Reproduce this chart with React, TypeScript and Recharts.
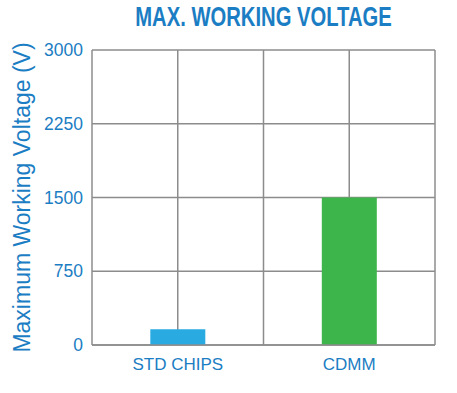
import { BarChart, Bar, XAxis, YAxis, CartesianGrid, Cell } from "recharts";

const categories = ["STD CHIPS", "CDMM"];
const voltages = [160, 1500];
const barColors = ["#29abe2", "#3db54a"];
const yTicks = [0, 750, 1500, 2250, 3000];
const chartTitle = "MAX. WORKING VOLTAGE";

const data = categories.map((name, i) => ({ name, value: voltages[i] }));

const BLUE = "#1b7dc3";
const GRID = "#8c8c8c";
const FONT = "'Liberation Sans', Arial, sans-serif";
// title is squeezed horizontally to look like a condensed face
const SQUEEZE = 0.71;

export default function App() {
  return (
    <div style={{ position: "absolute", left: 0, top: 0, width: 457, height: 393, background: "#fff" }}>
      <svg
        width={457}
        height={40}
        viewBox={`0 0 ${457 / SQUEEZE} 40`}
        preserveAspectRatio="none"
        style={{ position: "absolute", left: 0, top: 0 }}
      >
        <text
          x={263.5 / SQUEEZE}
          y={26}
          textAnchor="middle"
          fill={BLUE}
          fontFamily={FONT}
          fontWeight={700}
          fontSize={28.5}
        >
          {chartTitle}
        </text>
      </svg>
      <BarChart
        width={457}
        height={393}
        data={data}
        margin={{ top: 50, right: 22, bottom: 18, left: 0 }}
        barCategoryGap="34%"
        style={{ fontFamily: FONT }}
      >
        <CartesianGrid
          stroke={GRID}
          strokeWidth={1.5}
          verticalCoordinatesGenerator={({ offset }: any) =>
            [0, 1, 2, 3, 4].map((i) => offset.left + (offset.width * i) / 4)
          }
        />
        <XAxis
          dataKey="name"
          height={30}
          axisLine={{ stroke: GRID, strokeWidth: 1.5 }}
          tickLine={false}
          tickSize={0}
          tickMargin={13}
          tick={{ fill: BLUE, fontSize: 17 }}
        />
        <YAxis
          width={92}
          domain={[0, 3000]}
          ticks={yTicks}
          axisLine={false}
          tickLine={false}
          tickSize={0}
          tickMargin={9}
          tick={{ fill: BLUE, fontSize: 17.5 }}
          label={{
            value: "Maximum Working Voltage (V)",
            angle: -90,
            position: "insideLeft",
            offset: 22,
            fill: BLUE,
            fontSize: 23,
            style: { textAnchor: "middle" },
          }}
        />
        <Bar dataKey="value" isAnimationActive={false}>
          {data.map((d, i) => (
            <Cell key={d.name} fill={barColors[i]} />
          ))}
        </Bar>
      </BarChart>
    </div>
  );
}
